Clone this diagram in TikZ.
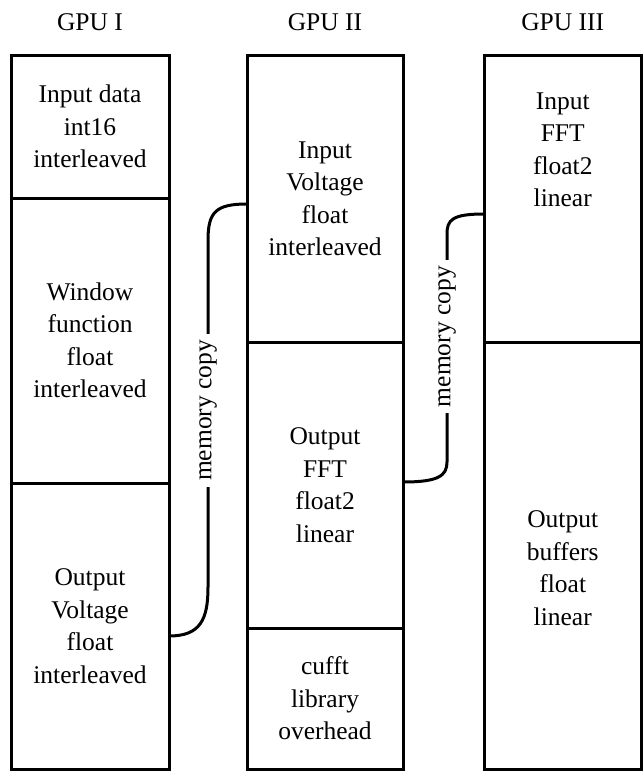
\documentclass[tikz,border=0pt]{standalone}
\usepackage{fontspec}
\setmainfont{Liberation Serif}
\begin{document}
\begin{tikzpicture}[x=1pt,y=-1pt,
  every node/.style={font=\fontsize{25.5pt}{32.5pt}\selectfont},
  cell/.style={draw, line width=3pt, inner sep=0pt, outer sep=0pt, align=center},
  txt/.style={align=center, inner sep=0pt},
  conn/.style={line width=3pt},
  mc/.style={rotate=90, fill=white, inner xsep=6pt, inner ysep=2pt}]
\useasboundingbox (0,0) rectangle (644,771);

% column titles
\node (t1) at (90,22) {GPU I};
\node (t2) at (325,22) {GPU II};
\node (t3) at (562.75,22) {GPU III};

% GPU I memory layout
\node[cell, minimum width=158pt, minimum height=142.5pt] (i1) at (90,126.75) {Input data\\int16\\interleaved};
\node[cell, minimum width=158pt, minimum height=285pt] (i2) at (90,340.5) {Window\\function\\float\\interleaved};
\node[cell, minimum width=158pt, minimum height=286pt] (i3) at (90,626) {Output\\Voltage\\float\\interleaved};

% GPU II memory layout
\node[cell, minimum width=156pt, minimum height=286.5pt] (ii1) at (325,198.75) {Input\\Voltage\\float\\interleaved};
\node[cell, minimum width=156pt, minimum height=286pt] (ii2) at (325,485) {Output\\FFT\\float2\\linear};
\node[cell, minimum width=156pt, minimum height=141pt] (ii3) at (325,698.5) {cufft\\library\\overhead};

% GPU III memory layout
\node[cell, minimum width=157.5pt, minimum height=286.5pt] (iii1) at (562.75,198.75) {};
\node[cell, minimum width=157.5pt, minimum height=427pt] (iii2) at (562.75,555.5) {};
\node[txt] (x1) at (562.75,150) {Input\\FFT\\float2\\linear};
\node[txt] (x2) at (562.75,568) {Output\\buffers\\float\\linear};

% memory copies between devices
\draw[conn] (i3.east |- 0,636) .. controls (200,636) and (208,620) .. (208,587)
  -- node[mc, pos=0.509] (m1) {memory copy} (208,240)
  .. controls (208,212) and (216,204) .. (ii1.west |- 0,204);
\draw[conn] (ii2.east |- 0,482) .. controls (438,482) and (447,476) .. (447,462)
  -- node[mc, pos=0.55] (m2) {memory copy} (447,234)
  .. controls (447,220) and (452,214) .. (iii1.west |- 0,214);
\end{tikzpicture}
\end{document}
